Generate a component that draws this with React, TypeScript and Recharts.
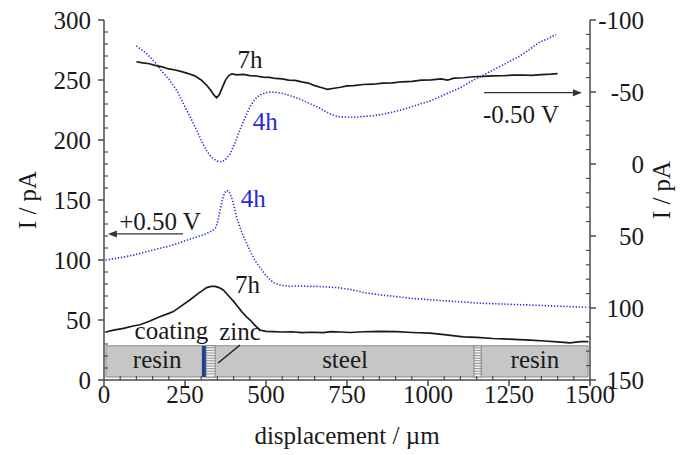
import React from "react";
import {
  LineChart,
  Line,
  XAxis,
  YAxis,
  ReferenceArea,
  ReferenceLine,
  ReferenceDot,
} from "recharts";

const FONT = "Liberation Serif, Times New Roman, Times, serif";
const INK = "#1a1a1a";
const AXIS = "#4a4a4a";
const BLUE = "#2a2ad8";
const FS = 25;

// ticks
const xTicks = Array.from({ length: 31 }, (_, i) => i * 50);
const leftTicks = Array.from({ length: 31 }, (_, i) => i * 10);
const rightTicks = Array.from({ length: 26 }, (_, i) => -100 + i * 10);

// -0.50 V scans (right axis, reversed)
const top7hX = [100, 120, 140, 160, 180, 200, 220, 240, 260, 280, 300, 315, 330, 340, 348, 356, 365, 375, 385, 395, 410, 430, 450, 470, 490, 510, 530, 550, 570, 590, 610, 630, 650, 670, 690, 710, 730, 750, 770, 800, 830, 860, 890, 920, 950, 980, 1010, 1040, 1060, 1080, 1110, 1140, 1170, 1200, 1230, 1260, 1290, 1320, 1350, 1380, 1400];
const top7hI = [-71, -70.2, -69.6, -68.3, -67.4, -66, -65.3, -64.1, -62.8, -61.2, -58.4, -55.2, -51, -47.6, -46, -48.2, -53, -58.3, -61.4, -62.6, -61.9, -62.2, -61.4, -61.1, -60.3, -60.2, -59.4, -59.1, -58.3, -58.1, -57, -56.2, -54.4, -53.1, -51.8, -52.6, -53.3, -54.2, -54.4, -55.2, -55.4, -56.2, -56.4, -57.1, -57.4, -58.2, -58.4, -59.1, -58.2, -59.6, -59.9, -60.6, -60.8, -61.2, -61.3, -61.7, -61.8, -61.5, -62.1, -62.4, -62.8];

const top4hX = [100, 130, 160, 180, 200, 225, 245, 265, 285, 305, 320, 335, 350, 363, 375, 389, 405, 420, 435, 451, 466, 481, 500, 517, 540, 560, 580, 600, 620, 640, 660, 680, 700, 720, 750, 780, 800, 830, 860, 900, 940, 980, 1010, 1040, 1070, 1100, 1130, 1160, 1190, 1220, 1250, 1280, 1310, 1340, 1370, 1395];
const top4hI = [-82, -77, -70, -64, -59, -51, -42, -33, -24, -14, -8, -4, -2, -1.5, -3, -7, -15, -24, -32, -40, -45, -48, -49.5, -50, -49.5, -48.5, -47, -45.5, -43.5, -41.5, -39.5, -37, -34.5, -33, -32.5, -32.5, -33, -33.5, -34.5, -36.5, -39, -42, -44, -47, -50, -53, -57, -60.5, -64, -67.5, -71, -74.5, -79, -84, -87, -90];

// +0.50 V scans (left axis)
const low4hX = [5, 30, 60, 90, 111, 140, 170, 200, 230, 260, 290, 317, 335, 345, 352, 358, 365, 372, 379, 386, 394, 402, 409, 420, 430, 440, 452, 465, 481, 500, 523, 545, 574, 600, 630, 660, 690, 720, 759, 800, 850, 903, 950, 1000, 1050, 1109, 1160, 1210, 1260, 1315, 1360, 1400, 1450, 1495];
const low4hI = [100, 101, 102.5, 104, 105.5, 107.5, 109.5, 111.5, 114, 117, 119.5, 122, 124.5, 127, 133, 141, 150, 156, 158, 157, 152, 144, 136, 127, 120, 114, 107, 100, 94, 87, 81, 79, 78, 78.5, 78, 78, 77.5, 77, 75.6, 73, 71, 69.5, 68, 67, 66, 65, 64, 63.5, 63, 62.5, 62, 61.5, 61, 60.5];

const low7hX = [5, 30, 60, 90, 111, 140, 170, 200, 214, 240, 265, 290, 317, 330, 343, 355, 368, 385, 400, 409, 425, 440, 451, 466, 481, 500, 523, 550, 580, 610, 640, 677, 700, 730, 760, 800, 850, 903, 950, 1006, 1050, 1109, 1150, 1200, 1250, 1315, 1360, 1400, 1438, 1470, 1495];
const low7hI = [40, 41.5, 43, 45, 46, 49, 52.5, 55.5, 57, 62, 66.7, 72, 77, 78, 78, 77, 75, 70, 65.5, 62.5, 57, 52.5, 50, 45.5, 41.7, 40.5, 40.3, 40, 40.2, 39.5, 39.8, 39.5, 40.3, 40, 39.6, 40.2, 40.5, 40.3, 39.6, 39, 37.8, 36, 35.5, 34.6, 34, 33.3, 32.5, 31.8, 31, 32, 32];

const zip = (xs: number[], ys: number[]) => xs.map((x, i) => ({ x, y: ys[i] }));

const textStyle = { fontFamily: FONT, fontSize: FS, fill: INK };

function T(props: any) {
  const { children, fill, ...rest } = props;
  return (
    <text fontFamily={FONT} fontSize={FS} fill={fill || INK} style={{ fontFamily: FONT }} {...rest}>
      {children}
    </text>
  );
}

function BottomTick(p: any) {
  const { x, y, payload } = p;
  const v = payload.value;
  const major = v % 250 === 0;
  return (
    <g>
      {major ? (
        <line x1={x} x2={x} y1={y} y2={y + 6} stroke={AXIS} strokeWidth={1.5} />
      ) : (
        <line x1={x} x2={x} y1={y - 4} y2={y} stroke={AXIS} strokeWidth={1.2} />
      )}
      {major && (
        <T x={x} y={y + 23} textAnchor="middle">
          {v}
        </T>
      )}
    </g>
  );
}

function LeftTick(p: any) {
  const { x, y, payload } = p;
  const v = payload.value;
  const major = v % 50 === 0;
  return (
    <g>
      {major ? (
        <line x1={x - 6} x2={x} y1={y} y2={y} stroke={AXIS} strokeWidth={1.5} />
      ) : (
        <line x1={x} x2={x + 4} y1={y} y2={y} stroke={AXIS} strokeWidth={1.2} />
      )}
      {major && (
        <T x={x - 13} y={y} dy="0.35em" textAnchor="end">
          {v}
        </T>
      )}
    </g>
  );
}

function RightTick(p: any) {
  const { x, y, payload } = p;
  const v = payload.value;
  const major = v % 50 === 0;
  return (
    <g>
      {major ? (
        <line x1={x} x2={x + 6} y1={y} y2={y} stroke={AXIS} strokeWidth={1.5} />
      ) : (
        <line x1={x - 4} x2={x} y1={y} y2={y} stroke={AXIS} strokeWidth={1.2} />
      )}
      {major && (
        <T x={x + 54} y={y} dy="0.35em" textAnchor="end">
          {v}
        </T>
      )}
    </g>
  );
}

function Hatch(p: any) {
  const { x, y, width, height } = p;
  const rows = [];
  for (let yy = y + 2; yy < y + height - 1; yy += 2.6) {
    rows.push(<line key={yy} x1={x} x2={x + width} y1={yy} y2={yy} stroke="#777" strokeWidth={0.8} />);
  }
  return (
    <g>
      <rect x={x} y={y} width={width} height={height} fill="#f2f2f2" stroke="#777" strokeWidth={0.8} />
      {rows}
    </g>
  );
}

function Arrow(p: any) {
  const { x1, y1, x2, y2 } = p;
  const a = Math.atan2(y2 - y1, x2 - x1);
  const L = 9;
  const W = 3.5;
  const bx = x2 - L * Math.cos(a);
  const by = y2 - L * Math.sin(a);
  const pts = `${x2},${y2} ${bx - W * Math.sin(a)},${by + W * Math.cos(a)} ${bx + W * Math.sin(a)},${by - W * Math.cos(a)}`;
  return (
    <g>
      <line x1={x1} y1={y1} x2={bx} y2={by} stroke="#333" strokeWidth={1.2} />
      <polygon points={pts} fill="#333" />
    </g>
  );
}

const note = (txt: string, color = INK) => (p: any) => (
  <T x={p.cx} y={p.cy} textAnchor="middle" fill={color}>
    {txt}
  </T>
);

function rotatedTitle(dx: number, dy: number) {
  return (p: any) => {
    const cx = p.viewBox.x + dx;
    const cy = p.viewBox.y + p.viewBox.height / 2 + dy;
    return (
      <T x={cx} y={cy} transform={`rotate(-90, ${cx}, ${cy})`} textAnchor="middle">
        I / pA
      </T>
    );
  };
}

export default function App() {
  return (
    <div style={{ position: "absolute", left: 0, top: 0, background: "#fff", fontFamily: FONT }}>
      <LineChart width={680} height={455} margin={{ top: 20, right: 0, left: 14, bottom: 35 }}>
        <XAxis
          dataKey="x"
          type="number"
          domain={[0, 1500]}
          ticks={xTicks}
          interval={0}
          tickSize={0}
          tickMargin={0}
          tickLine={false}
          axisLine={{ stroke: AXIS, strokeWidth: 1.5 }}
          tick={(p: any) => <BottomTick {...p} />}
          height={40}
          allowDataOverflow
          label={{
            content: (p: any) => (
              <T x={p.viewBox.x + p.viewBox.width / 2} y={p.viewBox.y + 64} textAnchor="middle">
                displacement / µm
              </T>
            ),
          }}
        />
        <YAxis
          yAxisId="left"
          type="number"
          domain={[0, 300]}
          ticks={leftTicks}
          interval={0}
          tickSize={0}
          tickMargin={0}
          tickLine={false}
          axisLine={{ stroke: AXIS, strokeWidth: 1.5 }}
          tick={(p: any) => <LeftTick {...p} />}
          width={90}
          allowDataOverflow
          label={{ content: rotatedTitle(22, 0) }}
        />
        <YAxis
          yAxisId="right"
          orientation="right"
          type="number"
          domain={[-100, 150]}
          reversed
          ticks={rightTicks}
          interval={0}
          tickSize={0}
          tickMargin={0}
          tickLine={false}
          axisLine={{ stroke: AXIS, strokeWidth: 1.5 }}
          tick={(p: any) => <RightTick {...p} />}
          width={90}
          allowDataOverflow
          label={{ content: rotatedTitle(80, -10) }}
        />

        {/* sample cross-section */}
        <ReferenceArea yAxisId="left" x1={6} x2={1494} y1={2.5} y2={28.5} fill="#c6c6c6" fillOpacity={1} stroke="#8a8a8a" strokeWidth={1} />
        <ReferenceArea yAxisId="left" x1={302} x2={315} y1={2.5} y2={28.5} fill="#1c4391" fillOpacity={1} stroke="none" />
        <ReferenceArea yAxisId="left" x1={315} x2={343} y1={2.5} y2={28.5} shape={(p: any) => <Hatch {...p} />} />
        <ReferenceArea yAxisId="left" x1={1142} x2={1164} y1={2.5} y2={28.5} shape={(p: any) => <Hatch {...p} />} />

        <Line data={zip(top4hX, top4hI)} yAxisId="right" dataKey="y" type="linear" stroke={BLUE} strokeWidth={1.6} strokeDasharray="1.3 1.8" dot={false} isAnimationActive={false} />
        <Line data={zip(top7hX, top7hI)} yAxisId="right" dataKey="y" type="linear" stroke={INK} strokeWidth={1.7} dot={false} isAnimationActive={false} />
        <Line data={zip(low4hX, low4hI)} yAxisId="left" dataKey="y" type="linear" stroke={BLUE} strokeWidth={1.6} strokeDasharray="1.3 1.8" dot={false} isAnimationActive={false} />
        <Line data={zip(low7hX, low7hI)} yAxisId="left" dataKey="y" type="linear" stroke={INK} strokeWidth={1.7} dot={false} isAnimationActive={false} />

        {/* potential arrows */}
        <ReferenceLine yAxisId="right" segment={[{ x: 1173, y: -49.5 }, { x: 1475, y: -49.5 }]} shape={(p: any) => <Arrow {...p} />} />
        <ReferenceLine yAxisId="left" segment={[{ x: 244, y: 121.7 }, { x: 12, y: 121.7 }]} shape={(p: any) => <Arrow {...p} />} />
        <ReferenceLine yAxisId="left" segment={[{ x: 420, y: 29.2 }, { x: 352, y: 14.2 }]} stroke={INK} strokeWidth={1.4} />

        {/* labels */}
        <ReferenceDot yAxisId="right" x={451} y={-66.7} r={1} shape={note("7h")} />
        <ReferenceDot yAxisId="right" x={498} y={-23.6} r={1} shape={note("4h", BLUE)} />
        <ReferenceDot yAxisId="right" x={1287} y={-28.5} r={1} shape={note("-0.50 V")} />
        <ReferenceDot yAxisId="left" x={461} y={144} r={1} shape={note("4h", BLUE)} />
        <ReferenceDot yAxisId="left" x={173} y={125} r={1} shape={note("+0.50 V")} />
        <ReferenceDot yAxisId="left" x={443} y={72.5} r={1} shape={note("7h")} />
        <ReferenceDot yAxisId="left" x={208} y={34} r={1} shape={note("coating")} />
        <ReferenceDot yAxisId="left" x={420} y={33.3} r={1} shape={note("zinc")} />
        <ReferenceDot yAxisId="left" x={164} y={10} r={1} shape={note("resin")} />
        <ReferenceDot yAxisId="left" x={744} y={10} r={1} shape={note("steel")} />
        <ReferenceDot yAxisId="left" x={1330} y={10} r={1} shape={note("resin")} />
      </LineChart>
    </div>
  );
}
